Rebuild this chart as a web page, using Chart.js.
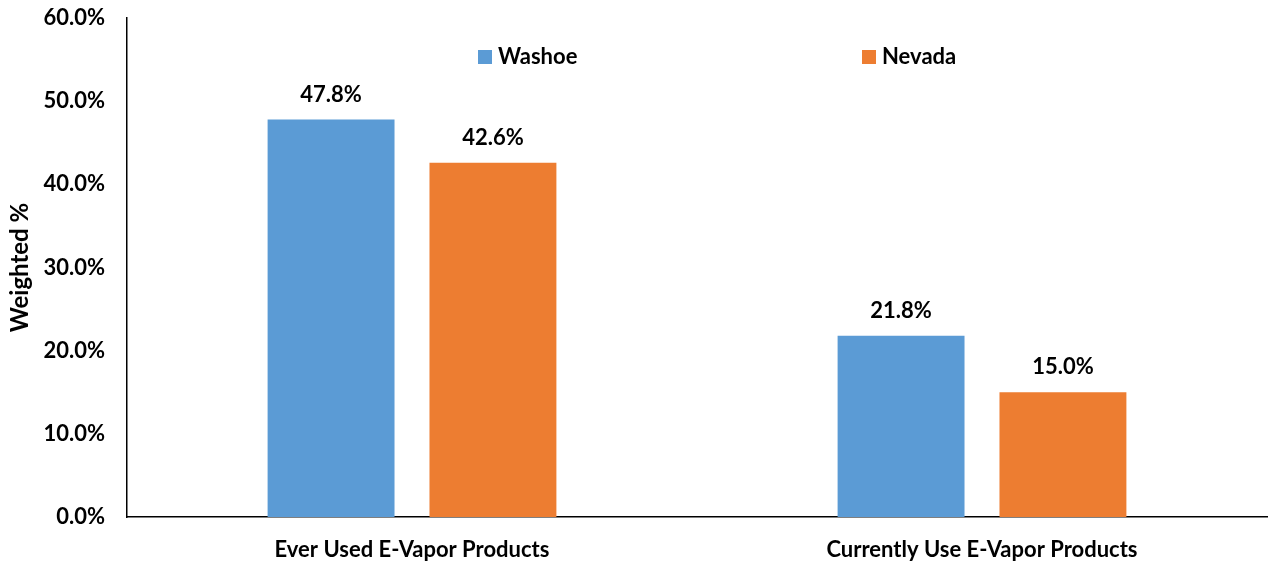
<!DOCTYPE html>
<html>
<head>
<meta charset="utf-8">
<script src="https://cdn.jsdelivr.net/npm/chart.js@4.4.1/dist/chart.umd.min.js"></script>
<style>
  html, body { margin: 0; padding: 0; background: #fff; }
  #wrap { position: relative; width: 1269px; height: 563px; }
</style>
</head>
<body>
<div id="wrap"><canvas id="vapor-chart" width="1269" height="563"></canvas></div>
<script>
const categories = ['Ever Used E-Vapor Products', 'Currently Use E-Vapor Products']
const seriesNames = ['Washoe', 'Nevada']
const washoeValues = [47.8, 21.8]
const nevadaValues = [42.6, 15.0]
const yTicks = [0, 10, 20, 30, 40, 50, 60]

const colors = ['#5B9BD5', '#ED7D31']
const fontFamily = "Lato, 'Open Sans', sans-serif"

// legend + value labels drawn on the canvas
const extras = {
  id: 'extras',
  afterDatasetsDraw (chart) {
    const ctx = chart.ctx
    ctx.save()
    ctx.font = 'bold 22px ' + fontFamily
    ctx.fillStyle = '#000'
    ctx.textAlign = 'center'
    ctx.textBaseline = 'middle'
    chart.data.datasets.forEach((ds, i) => {
      chart.getDatasetMeta(i).data.forEach((bar, j) => {
        ctx.fillText(ds.data[j].toFixed(1) + '%', bar.x, bar.y - 25)
      })
    })
    // legend
    const legendX = [478, 862]
    ctx.textAlign = 'left'
    seriesNames.forEach((name, i) => {
      ctx.fillStyle = colors[i]
      ctx.fillRect(legendX[i], 50, 14, 14)
      ctx.fillStyle = '#000'
      ctx.fillText(name, legendX[i] + 20, 57)
    })
    ctx.restore()
  }
}

const ctx2d = document.getElementById('vapor-chart').getContext('2d')
const chart = new Chart(ctx2d, {
  type: 'bar',
  data: {
    labels: categories,
    datasets: [
      { label: seriesNames[0], data: washoeValues, backgroundColor: colors[0] },
      { label: seriesNames[1], data: nevadaValues, backgroundColor: colors[1] }
    ]
  },
  options: {
    responsive: false,
    animation: false,
    layout: { padding: { top: 18, right: 2, left: 0, bottom: 0 } },
    categoryPercentage: 0.568,
    barPercentage: 0.784,
    plugins: {
      legend: { display: false },
      tooltip: { enabled: false }
    },
    scales: {
      x: {
        grid: { display: false, drawTicks: false },
        border: { color: '#000', width: 1.5 },
        ticks: {
          color: '#000',
          padding: 20,
          font: { family: fontFamily, size: 22, weight: 'bold' }
        },
        afterFit (scale) {
          scale.height = 46
          scale.paddingLeft = 0
          scale.paddingRight = 0
        }
      },
      y: {
        min: 0,
        max: 60,
        afterBuildTicks (scale) { scale.ticks = yTicks.map(v => ({ value: v })) },
        grid: { display: false, drawTicks: false },
        border: { color: '#000', width: 1.5 },
        title: {
          display: true,
          text: 'Weighted %',
          color: '#000',
          padding: { top: 6, bottom: 4 },
          font: { family: fontFamily, size: 24, weight: 'bold' }
        },
        ticks: {
          color: '#000',
          padding: 22,
          font: { family: fontFamily, size: 22, weight: 'bold' },
          callback: v => v.toFixed(1) + '%'
        },
        afterFit (scale) {
          scale.width = 127
          scale.paddingTop = 0
          scale.paddingBottom = 0
        }
      }
    }
  },
  plugins: [extras]
})
</script>
</body>
</html>
